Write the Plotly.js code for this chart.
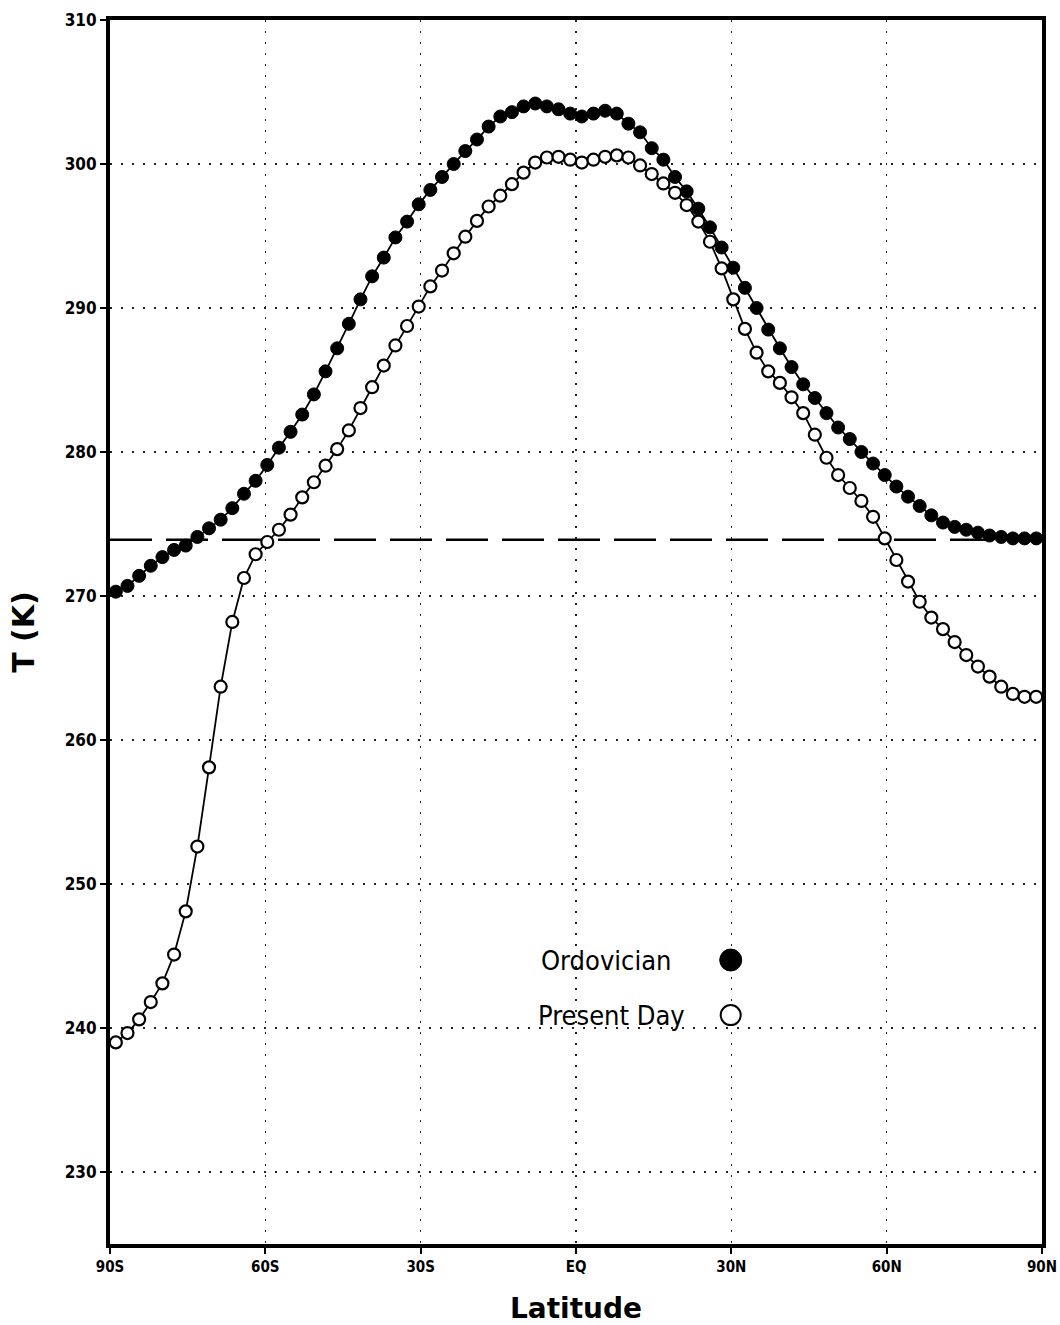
<!DOCTYPE html>
<html>
<head>
<meta charset="utf-8">
<script src="https://cdn.plot.ly/plotly-3.0.1.min.js"></script>
<style>
  html, body { margin: 0; padding: 0; background: #ffffff; }
  #chart { width: 1060px; height: 1325px; }
</style>
</head>
<body>
<div id="chart"></div>
<script>
// Latitude of each grid row (degrees, negative = south)
const latitude = [
  -88.875, -86.625, -84.375, -82.125, -79.875, -77.625, -75.375, -73.125, -70.875, -68.625,
  -66.375, -64.125, -61.875, -59.625, -57.375, -55.125, -52.875, -50.625, -48.375, -46.125,
  -43.875, -41.625, -39.375, -37.125, -34.875, -32.625, -30.375, -28.125, -25.875, -23.625,
  -21.375, -19.125, -16.875, -14.625, -12.375, -10.125, -7.875, -5.625, -3.375, -1.125,
  1.125, 3.375, 5.625, 7.875, 10.125, 12.375, 14.625, 16.875, 19.125, 21.375,
  23.625, 25.875, 28.125, 30.375, 32.625, 34.875, 37.125, 39.375, 41.625, 43.875,
  46.125, 48.375, 50.625, 52.875, 55.125, 57.375, 59.625, 61.875, 64.125, 66.375,
  68.625, 70.875, 73.125, 75.375, 77.625, 79.875, 82.125, 84.375, 86.625, 88.875
];

// Zonal mean temperature (K), Ordovician
const ordovicianT = [
  270.3, 270.7, 271.4, 272.1, 272.7, 273.2, 273.5, 274.1, 274.7, 275.3,
  276.1, 277.1, 278.0, 279.1, 280.3, 281.4, 282.6, 284.0, 285.6, 287.2,
  288.9, 290.6, 292.2, 293.5, 294.9, 296.0, 297.2, 298.2, 299.1, 300.0,
  300.9, 301.7, 302.6, 303.3, 303.6, 304.0, 304.2, 304.0, 303.8, 303.5,
  303.3, 303.5, 303.7, 303.5, 302.8, 302.2, 301.1, 300.3, 299.1, 298.1,
  296.9, 295.6, 294.2, 292.8, 291.4, 290.0, 288.5, 287.2, 285.9, 284.7,
  283.75, 282.7, 281.7, 280.9, 280.0, 279.2, 278.4, 277.6, 276.9, 276.25,
  275.6, 275.1, 274.8, 274.6, 274.4, 274.2, 274.1, 274.0, 274.0, 274.0
];

// Zonal mean temperature (K), Present Day
const presentDayT = [
  239.0, 239.65, 240.6, 241.8, 243.1, 245.1, 248.1, 252.6, 258.1, 263.7,
  268.2, 271.25, 272.9, 273.75, 274.6, 275.65, 276.85, 277.9, 279.05, 280.2,
  281.5, 283.05, 284.5, 286.0, 287.4, 288.75, 290.1, 291.5, 292.6, 293.8,
  294.95, 296.05, 297.05, 297.8, 298.6, 299.4, 300.1, 300.45, 300.5, 300.3,
  300.1, 300.3, 300.5, 300.6, 300.45, 299.9, 299.3, 298.65, 298.0, 297.15,
  296.0, 294.6, 292.75, 290.6, 288.55, 286.9, 285.6, 284.8, 283.8, 282.7,
  281.2, 279.6, 278.4, 277.5, 276.6, 275.5, 274.0, 272.5, 271.0, 269.6,
  268.5, 267.7, 266.8, 265.9, 265.1, 264.4, 263.7, 263.2, 263.0, 263.0
];

// Reference level drawn as the long-dashed line (K)
const referenceT = 273.9;

// Axis ticks
const xTickVals = [-90, -60, -30, 0, 30, 60, 90];
const xTickText = ['90S', '60S', '30S', 'EQ', '30N', '60N', '90N'];
const yTickVals = [230, 240, 250, 260, 270, 280, 290, 300, 310];

const seriesNames = ['Ordovician', 'Present Day'];

const traces = [
  {
    x: latitude, y: ordovicianT, name: seriesNames[0],
    type: 'scatter', mode: 'lines+markers',
    line: { color: '#000000', width: 1.8 },
    marker: { symbol: 'circle', size: 13, color: '#000000', line: { color: '#000000', width: 1 } },
    showlegend: false, cliponaxis: false
  },
  {
    x: latitude, y: presentDayT, name: seriesNames[1],
    type: 'scatter', mode: 'lines+markers',
    line: { color: '#000000', width: 1.8 },
    marker: { symbol: 'circle', size: 12, color: '#ffffff', line: { color: '#000000', width: 2.2 } },
    showlegend: false, cliponaxis: false
  }
];

const gridStyle = { showgrid: true, gridcolor: '#222222', gridwidth: 1.2, griddash: '2px,9px' };

const layout = {
  width: 1060, height: 1325,
  margin: { l: 110, r: 18, t: 20, b: 81 },
  paper_bgcolor: '#ffffff', plot_bgcolor: '#ffffff',
  showlegend: false,
  font: { family: 'DejaVu Sans, sans-serif', color: '#000000' },
  xaxis: Object.assign({
    range: [-90, 90], tickmode: 'array', tickvals: xTickVals, ticktext: xTickText,
    ticks: 'outside', ticklen: 6, tickwidth: 2, tickcolor: '#000000',
    showline: true, linecolor: '#000000', linewidth: 4, mirror: true,
    zeroline: false,
    tickfont: { family: 'DejaVu Sans Condensed, DejaVu Sans, sans-serif', size: 15, weight: 'bold' },
    title: { text: 'Latitude', standoff: 24, font: { family: 'DejaVu Sans, sans-serif', size: 28, weight: 'bold' } }
  }, gridStyle),
  yaxis: Object.assign({
    range: [225, 310], tickmode: 'array', tickvals: yTickVals,
    ticks: 'outside', ticklen: 6, tickwidth: 2, tickcolor: '#000000',
    showline: true, linecolor: '#000000', linewidth: 4, mirror: true,
    zeroline: false,
    tickfont: { family: 'DejaVu Sans Condensed, DejaVu Sans, sans-serif', size: 17, weight: 'bold' },
    title: { text: 'T (K)', standoff: 22, font: { family: 'DejaVu Sans, sans-serif', size: 30, weight: 'bold' } }
  }, gridStyle),
  shapes: [
    {
      type: 'line', xref: 'paper', x0: 0, x1: 1, yref: 'y', y0: referenceT, y1: referenceT,
      line: { color: '#000000', width: 2.5, dash: '42px,14px' }, layer: 'below'
    },
    {
      type: 'circle', xref: 'paper', yref: 'paper', xsizemode: 'pixel', ysizemode: 'pixel',
      xanchor: 0.666, yanchor: 0.232, x0: -11, x1: 11, y0: -11, y1: 11,
      fillcolor: '#000000', line: { color: '#000000', width: 1 }
    },
    {
      type: 'circle', xref: 'paper', yref: 'paper', xsizemode: 'pixel', ysizemode: 'pixel',
      xanchor: 0.666, yanchor: 0.187, x0: -10, x1: 10, y0: -10, y1: 10,
      fillcolor: '#ffffff', line: { color: '#000000', width: 2 }
    }
  ],
  annotations: [
    {
      xref: 'paper', yref: 'paper', x: 0.604, y: 0.232, xanchor: 'right', yanchor: 'middle',
      text: seriesNames[0], showarrow: false,
      font: { family: 'DejaVu Sans Condensed, DejaVu Sans, sans-serif', size: 27, color: '#000000' }
    },
    {
      xref: 'paper', yref: 'paper', x: 0.619, y: 0.187, xanchor: 'right', yanchor: 'middle',
      text: seriesNames[1], showarrow: false,
      font: { family: 'DejaVu Sans Condensed, DejaVu Sans, sans-serif', size: 27, color: '#000000' }
    }
  ]
};

Plotly.newPlot('chart', traces, layout, { displayModeBar: false, staticPlot: true });
</script>
</body>
</html>
